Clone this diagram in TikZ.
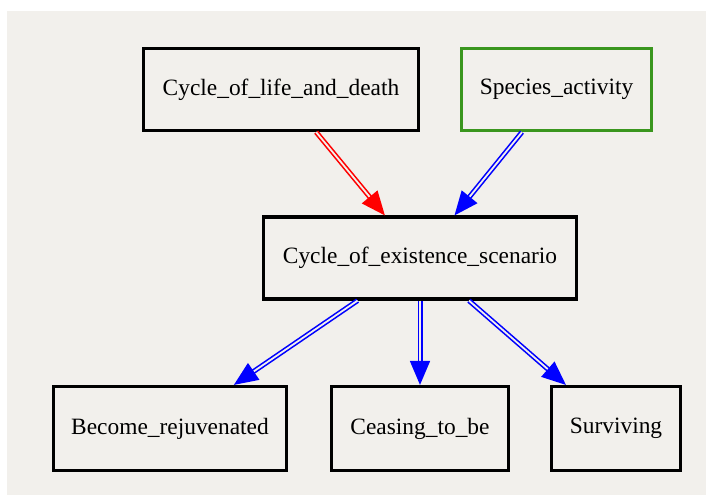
\documentclass[tikz,border=0pt]{standalone}
\usepackage{fontspec}
\setmainfont{Liberation Serif}
\usetikzlibrary{arrows.meta}
\usepackage{xcolor}
\definecolor{paper}{HTML}{F2F0EC}
\definecolor{leafgreen}{HTML}{3A961E}
\tikzset{
box/.style={
  rectangle,
  draw=black,
  line width=1.6pt,
  minimum height=41pt,
  inner sep=0pt,
  font=\fontsize{11.7}{14}\selectfont
  },
link/.style={
  draw=#1,
  double=paper,
  double distance=0.9pt,
  line width=0.8pt,
  -{Triangle[length=12pt,width=10pt,fill=#1]}
  },
%texto/.style={font=\footnotesize\sffamily}
}
\begin{document}
\begin{tikzpicture}[x=0.5pt,y=-0.5pt]
    \path[use as bounding box] (0,0) rectangle (706,495);
    \fill[paper] (7,11) rectangle (706,495);

    \node [box, minimum width=137.5pt] (life) at (281,89.5) {Cycle\_of\_life\_and\_death};
    \node [box, draw=leafgreen, minimum width=95pt] (species) at (556.5,89.5) {Species\_activity};
    \node [box, minimum width=156.5pt] (scenario) at (420,258) {Cycle\_of\_existence\_scenario};
    \node [box, minimum width=116.5pt, minimum height=42pt] (become) at (170,428.5) {Become\_rejuvenated};
    \node [box, minimum width=88.5pt, minimum height=42pt] (ceasing) at (420,428.5) {Ceasing\_to\_be};
    \node [box, minimum width=64.5pt, minimum height=42pt] (surviving) at (616,428.5) {Surviving};

    \draw [link=red] (life) -- (scenario);
    \draw [link=blue] (species) -- (scenario);
    \foreach \t in {become, ceasing, surviving}
    {
        \draw [link=blue] (scenario) -- (\t);
    }

\end{tikzpicture}
\end{document}
